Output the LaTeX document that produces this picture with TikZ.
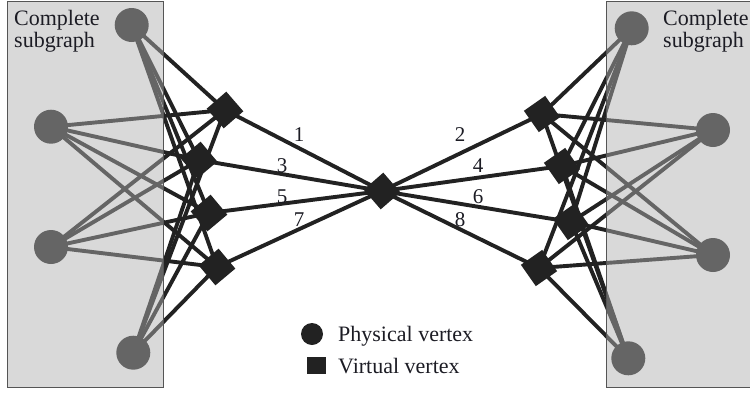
\documentclass[tikz,border=0pt]{standalone}
\usepackage{fontspec}
\setmainfont{Liberation Serif}
\definecolor{ink}{HTML}{222222}
\definecolor{overlay}{RGB}{176,176,176}
\definecolor{boxline}{HTML}{555555}
\definecolor{txt}{HTML}{1C1C24}
\pgfdeclarelayer{bg}
\pgfdeclarelayer{fg}
\pgfsetlayers{bg,main,fg}
\begin{document}
\begin{tikzpicture}[x=1pt,y=-1pt,
  edge/.style={draw=ink, line width=3.9pt},
  pv/.style={circle, fill=ink, minimum size=34pt, inner sep=0pt},
  vv/.style={rectangle, fill=ink, minimum size=26pt, inner sep=0pt},
  sgbox/.style={draw=boxline, line width=1pt, fill=overlay, fill opacity=0.48},
  lbl/.style={font=\fontsize{21}{22}\selectfont, text=txt, inner sep=0pt},
  ttl/.style={font=\fontsize{22}{22}\selectfont, text=txt, inner sep=0pt, anchor=base west},
]
\useasboundingbox (0,0) rectangle (750,394);
% physical vertices left
\node[pv] (pl1) at (131.7,25) {};
\node[pv] (pl2) at (51,126.7) {};
\node[pv] (pl3) at (51,247) {};
\node[pv] (pl4) at (133.3,352.7) {};
% physical vertices right
\node[pv] (pr1) at (631.7,28.3) {};
\node[pv] (pr2) at (713,130) {};
\node[pv] (pr3) at (713,255) {};
\node[pv] (pr4) at (628.3,358.3) {};
% virtual vertices
\node[vv, rotate=41] (vl1) at (225,110) {};
\node[vv, rotate=40] (vl2) at (199,160) {};
\node[vv, rotate=40] (vl3) at (209,213) {};
\node[vv, rotate=40] (vl4) at (217,267) {};
\node[vv, rotate=35] (vr1) at (542,114) {};
\node[vv, rotate=35] (vr2) at (562,166) {};
\node[vv, rotate=35] (vr3) at (571,222) {};
\node[vv, rotate=35] (vr4) at (539,268) {};
\node[vv, rotate=41] (c) at (382,191) {};
% edges
\begin{pgfonlayer}{bg}
\foreach \p in {pl1,pl2,pl3,pl4}
  \foreach \v in {vl1,vl2,vl3,vl4}
    \draw[edge] (\p.center) -- (\v.center);
\foreach \p in {pr1,pr2,pr3,pr4}
  \foreach \v in {vr1,vr2,vr3,vr4}
    \draw[edge] (\p.center) -- (\v.center);
\foreach \v in {vl1,vl2,vl3,vl4,vr1,vr2,vr3,vr4}
  \draw[edge] (\v.center) -- (c.center);
\end{pgfonlayer}
% edge labels
\node[lbl] (n1) at (299,135) {1};
\node[lbl] (n3) at (282,166) {3};
\node[lbl] (n5) at (282,197) {5};
\node[lbl] (n7) at (299,220) {7};
\node[lbl] (n2) at (460,135) {2};
\node[lbl] (n4) at (478,166) {4};
\node[lbl] (n6) at (478,197) {6};
\node[lbl] (n8) at (460,220) {8};
% complete subgraph boxes
\begin{pgfonlayer}{fg}
\draw[sgbox] (7,1) rectangle (163.5,387);
\draw[sgbox] (606.5,1) rectangle (755,387);
\node[ttl] (tl1) at (14,25) {Complete};
\node[ttl] (tl2) at (14,47) {subgraph};
\node[ttl] (tr1) at (663,25) {Complete};
\node[ttl] (tr2) at (663,47) {subgraph};
\end{pgfonlayer}
% legend
\node[circle, fill=ink, minimum size=22pt, inner sep=0pt] (lc) at (312,334) {};
\node[rectangle, fill=ink, minimum width=19pt, minimum height=17pt, inner sep=0pt] (ls) at (316,365) {};
\node[ttl] (lt1) at (338,341) {Physical vertex};
\node[ttl] (lt2) at (338,373) {Virtual vertex};
\end{tikzpicture}
\end{document}
